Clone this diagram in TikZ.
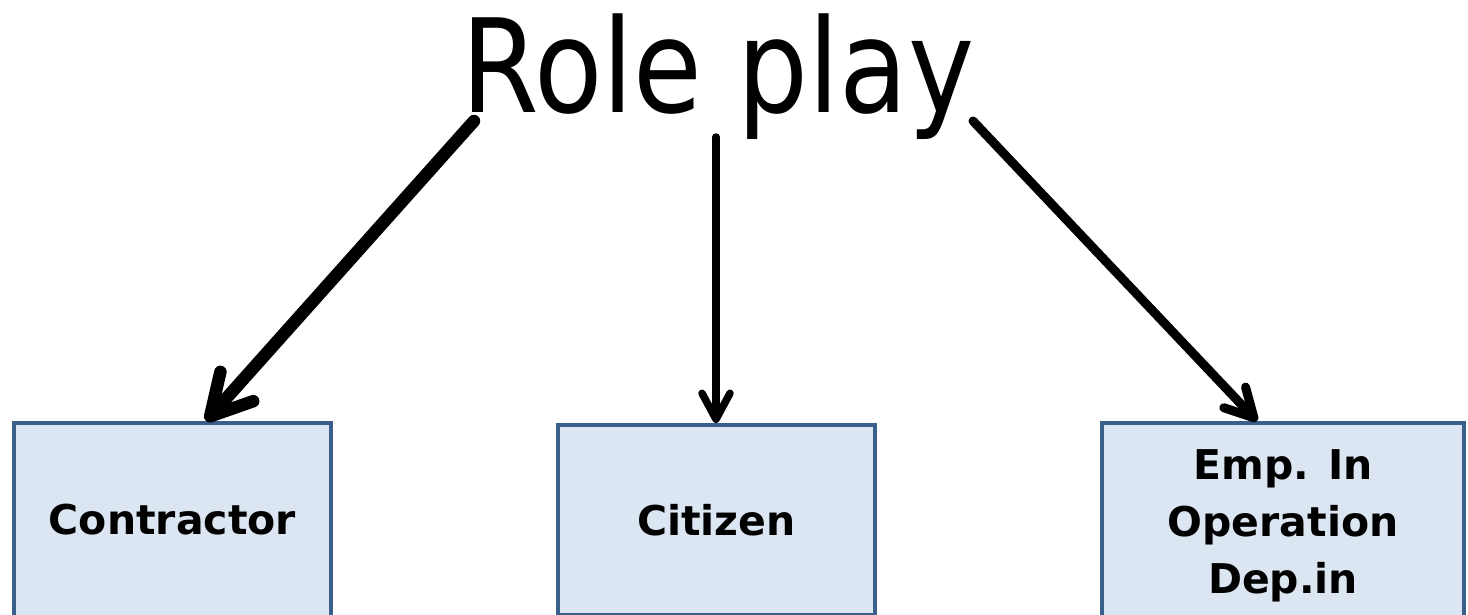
\documentclass[tikz,border=0pt]{standalone}
\usepackage{fontspec}
\setmainfont{DejaVu Sans}
\usetikzlibrary{arrows.meta}
\definecolor{boxfill}{HTML}{DCE6F2}
\definecolor{boxline}{HTML}{3A5F8B}
\begin{document}
\begin{tikzpicture}[x=1pt,y=-1pt,
  rolebox/.style={draw=boxline, fill=boxfill, line width=4.5pt, inner sep=0pt,
    align=center, font=\bfseries\fontsize{41}{57}\selectfont},
  arr/.style={line cap=round, line join=round}]
\useasboundingbox (0,0) rectangle (1468,614);
\clip (0,0) rectangle (1468,614);
\node[anchor=base, inner sep=0pt, font=\fontsize{130}{130}\selectfont] (title) at (718,112) {\scalebox{0.86}[1]{Role play}};
\node[rolebox, minimum width=317pt, minimum height=194pt] (b1) at (172.5,520) {Contractor};
\node[rolebox, minimum width=317pt, minimum height=190pt] (b2) at (716.5,520) {Citizen};
\node[rolebox, minimum width=362pt, minimum height=206pt] (b3) at (1283,526) {Emp. In\\Operation\\Dep.in};
\coordinate (s1) at (474,121);
\coordinate (s2) at (716,137);
\coordinate (s3) at (973,121);
\coordinate (t1) at (206,421);
\coordinate (t2) at (716,423);
\coordinate (t3) at (1257,421);
\draw[arr, line width=12.5pt, -{Straight Barb[length=40pt,width=44pt,round]}] (s1) -- (t1);
\draw[arr, line width=7.5pt, -{Straight Barb[length=26pt,width=28pt,round]}] (s2) -- (t2);
\draw[arr, line width=9pt, -{Straight Barb[length=28pt,width=30pt,round]}] (s3) -- (t3);
\end{tikzpicture}
\end{document}
